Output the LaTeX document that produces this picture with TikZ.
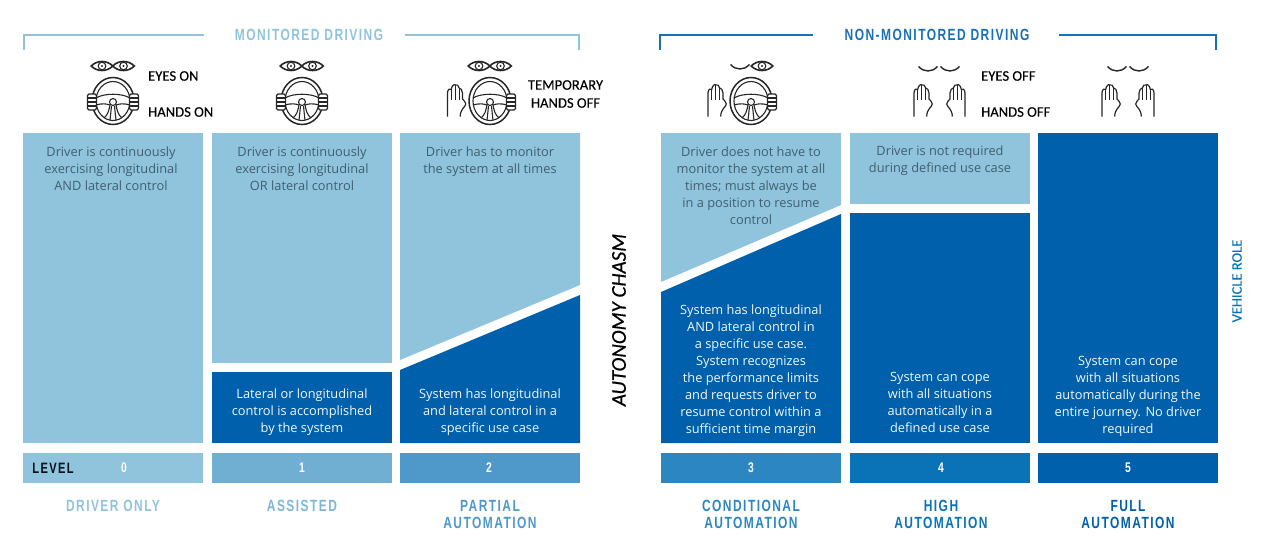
\documentclass[tikz,border=0pt]{standalone}
\usepackage{fontspec}
\setmainfont{Open Sans}
\newfontfamily\headfont[FakeStretch=0.74,LetterSpace=9]{Liberation Sans Bold}
\newfontfamily\labelfont[FakeBold=0.3]{Carlito}
\newfontfamily\chasmfont[FakeBold=0.5]{Carlito Italic}
\definecolor{lightblue}{HTML}{8FC4DC}
\definecolor{darkblue}{HTML}{0060AB}
\definecolor{iconcol}{HTML}{262626}
\definecolor{lvlone}{HTML}{70AED2}
\definecolor{lvltwo}{HTML}{4F98CA}
\definecolor{lvlthree}{HTML}{2C86C2}
\definecolor{lvlfour}{HTML}{0A73B7}
\definecolor{desctext}{HTML}{3F5F70}
\tikzset{every picture/.style={x=1pt,y=-1pt}}
\tikzset{
	desc/.style={align=center,inner sep=0pt,font=\fontsize{12.8}{17}\selectfont},
	desclight/.style={desc,text=desctext},
	descdark/.style={desc,text=white!88!lightblue},
	head/.style={align=center,inner sep=0pt,font=\headfont\fontsize{16.2}{17}\selectfont},
	digit/.style={inner sep=0pt,text=white,font=\headfont\fontsize{14}{17}\selectfont},
	lab/.style={align=center,inner sep=0pt,text=black,font=\labelfont\fontsize{14.6}{18}\selectfont},
	bracket/.style={line width=1.3pt},
	icon/.style={draw=iconcol,line width=1.1pt},
	pics/eye/.style={code={
		\draw[icon,line width=1.6pt] (-10.8,0) .. controls (-5,-6) and (5,-6) .. (10.8,0) .. controls (5,6) and (-5,6) .. cycle;
		\draw[icon] (0,0) circle (3.8);
		\fill[iconcol] (0,0) circle (1.1);
	}},
	pics/closedeye/.style={code={
		\draw[icon,line width=1.4pt] (-9.5,-2.5) .. controls (-4,3.5) and (4,3.5) .. (9.5,-2.5);
	}},
	pics/hand/.style={code={
		\draw[icon,line width=1.2pt] (-9,16.5) -- (-9,-7) .. controls (-9,-11) and (-6,-12) .. (-5.3,-10.5) .. controls (-5,-14) and (-2,-16.5) .. (-1.3,-15)
			.. controls (0,-16) and (2.5,-14.5) .. (2.7,-12) .. controls (4,-12) and (6,-10) .. (6,-7)
			-- (6,-1) .. controls (7,1) and (9.5,1.5) .. (9.3,4) .. controls (9,7) and (3.7,9) .. (3.7,16.5);
		\draw[icon,line width=1.3pt] (-5.3,-10.5) -- (-5.3,0) (-1.3,-15) -- (-1.3,0) (2.7,-12) -- (2.7,0);
	}},
	pics/wheel/.style={code={
		\draw[icon,line width=1.5pt] (0,0) ellipse [x radius=21,y radius=23.5];
		\draw[icon] (0,0) ellipse [x radius=17,y radius=19.5];
		\draw[icon] (-17,-3) .. controls (-9,-8) and (9,-8) .. (17,-3);
		\draw[icon] (-17,4) .. controls (-10,2) and (-6,3) .. (-3,4) .. controls (-4,9) and (-5,14) .. (-9,17);
		\draw[icon] (17,4) .. controls (10,2) and (6,3) .. (3,4) .. controls (4,9) and (5,14) .. (9,17);
		\draw[icon] (-1.5,5) .. controls (-2,10) and (-2.5,15) .. (-3,19);
		\draw[icon] (1.5,5) .. controls (2,10) and (2.5,15) .. (3,19);
		\draw[icon,fill=white] (0,1) circle (3.5);
	}},
	pics/grip/.style={code={
		\draw[icon,fill=white,rounded corners=1.5pt] (-4.5,-8) rectangle (4.5,8);
		\draw[icon] (-4.5,-4) -- (4.5,-4) (-4.5,0) -- (4.5,0) (-4.5,4) -- (4.5,4);
	}}
}

\begin{document}
\begin{tikzpicture}
\useasboundingbox (0,0) rectangle (1262,547);

\draw[bracket,lightblue] (24,50) -- (24,35) -- (204,35);
\draw[bracket,lightblue] (405,35) -- (579,35) -- (579,50);
\draw[bracket,darkblue!90] (660,50) -- (660,35) -- (813,35);
\draw[bracket,darkblue!90] (1059,35) -- (1216,35) -- (1216,50);
\node[head,text=lightblue] (monitored) at (309,35) {MONITORED DRIVING};
\node[head,text=darkblue!90] (nonmonitored) at (937,35) {NON-MONITORED DRIVING};

\pic at (102,66) {eye};
\pic at (123.5,66) {eye};
\pic at (113,101) {wheel};
\pic at (92,102) {grip};
\pic at (134,102) {grip};

\pic at (291,66) {eye};
\pic at (312.5,66) {eye};
\pic at (302,101) {wheel};
\pic at (281,102) {grip};
\pic at (323,102) {grip};

\pic at (479,66) {eye};
\pic at (500.5,66) {eye};
\pic at (490,101) {wheel};
\pic at (511,102) {grip};
\pic at (456.5,100) {hand};

\pic at (740,67) {closedeye};
\pic at (762,66) {eye};
\pic at (751,101) {wheel};
\pic at (772,102) {grip};
\pic at (717,100) {hand};

\pic at (928,69) {closedeye};
\pic at (950,69) {closedeye};
\pic at (923,100) {hand};
\pic[xscale=-1] at (956,100) {hand};

\pic at (1117,69) {closedeye};
\pic at (1139,69) {closedeye};
\pic at (1111,100) {hand};
\pic[xscale=-1] at (1145,100) {hand};

\node[lab,anchor=west] (eyeson) at (148,76) {EYES ON};
\node[lab,anchor=west] (handson) at (148,112) {HANDS ON};
\node[lab] (temporary) at (565.5,94) {TEMPORARY\\HANDS OFF};
\node[lab,anchor=west] (eyesoff) at (981,76) {EYES OFF};
\node[lab,anchor=west] (handsoff) at (981,112) {HANDS OFF};

\fill[lightblue] (23,133) rectangle (203,443);
\fill[lightblue] (212,133) rectangle (392,363);
\fill[darkblue] (212,372) rectangle (392,443);
\fill[lightblue] (400,133) -- (580,133) -- (580,285) -- (400,360) -- cycle;
\fill[darkblue] (400,370) -- (580,295) -- (580,443) -- (400,443) -- cycle;
\fill[lightblue] (661,133) -- (841,133) -- (841,205) -- (661,282) -- cycle;
\fill[darkblue] (661,292) -- (841,214) -- (841,443) -- (661,443) -- cycle;
\fill[lightblue] (850,133) rectangle (1030,204);
\fill[darkblue] (850,213) rectangle (1030,443);
\fill[darkblue] (1038,133) rectangle (1218,443);

\node[desclight] (driver0) at (111,169) {Driver is continuously\\exercising longitudinal\\AND lateral control};
\node[desclight] (driver1) at (302,169) {Driver is continuously\\exercising longitudinal\\OR lateral control};
\node[desclight] (driver2) at (490,162) {Driver has to monitor\\the system at all times};
\node[desclight] (driver3) at (751,186) {Driver does not have to\\monitor the system at all\\times; must always be\\in a position to resume\\control};
\node[desclight] (driver4) at (940,161) {Driver is not required\\during defined use case};
\node[descdark] (system1) at (302,412.5) {Lateral or longitudinal\\control is accomplished\\by the system};
\node[descdark] (system2) at (490,412.5) {System has longitudinal\\and lateral control in a\\specific use case};
\node[descdark] (system3) at (751,371) {System has longitudinal\\AND lateral control in\\a specific use case.\\System recognizes\\the performance limits\\and requests driver to\\resume control within a\\sufficient time margin};
\node[descdark] (system4) at (940,402) {System can cope\\with all situations\\automatically in a\\defined use case};
\node[descdark] (system5) at (1128,396) {System can cope\\with all situations\\automatically during the\\entire journey. No driver\\required};

\fill[lightblue] (23,453) rectangle (203,483);
\fill[lvlone] (212,453) rectangle (392,483);
\fill[lvltwo] (400,453) rectangle (580,483);
\fill[lvlthree] (661,453) rectangle (841,483);
\fill[lvlfour] (850,453) rectangle (1030,483);
\fill[darkblue] (1038,453) rectangle (1218,483);

\node[digit,text=black!85!darkblue,font=\headfont\fontsize{15}{17}\selectfont] (level) at (53,468) {LEVEL};
\node[digit] (level0) at (124,468) {0};
\node[digit] (level1) at (302,468) {1};
\node[digit] (level2) at (489,468) {2};
\node[digit] (level3) at (751,468) {3};
\node[digit] (level4) at (941,468) {4};
\node[digit] (level5) at (1128,468) {5};

\node[head,text=lightblue] (name0) at (113,505.5) {DRIVER ONLY};
\node[head,text=lvlone!90] (name1) at (302,505.5) {ASSISTED};
\node[head,text=lvltwo] (name2) at (490,514) {PARTIAL\\AUTOMATION};
\node[head,text=lvlthree] (name3) at (751,514) {CONDITIONAL\\AUTOMATION};
\node[head,text=lvlfour] (name4) at (941,514) {HIGH\\AUTOMATION};
\node[head,text=darkblue] (name5) at (1128,514) {FULL\\AUTOMATION};

\node[rotate=90,inner sep=0pt,text=black,font=\chasmfont\fontsize{21}{24}\selectfont] (chasm) at (619,320) {AUTONOMY CHASM};
\node[rotate=90,inner sep=0pt,text=lvlfour,font=\labelfont\fontsize{14.5}{16}\selectfont] (vehicle) at (1237,281) {VEHICLE ROLE};
\end{tikzpicture}
\end{document}
